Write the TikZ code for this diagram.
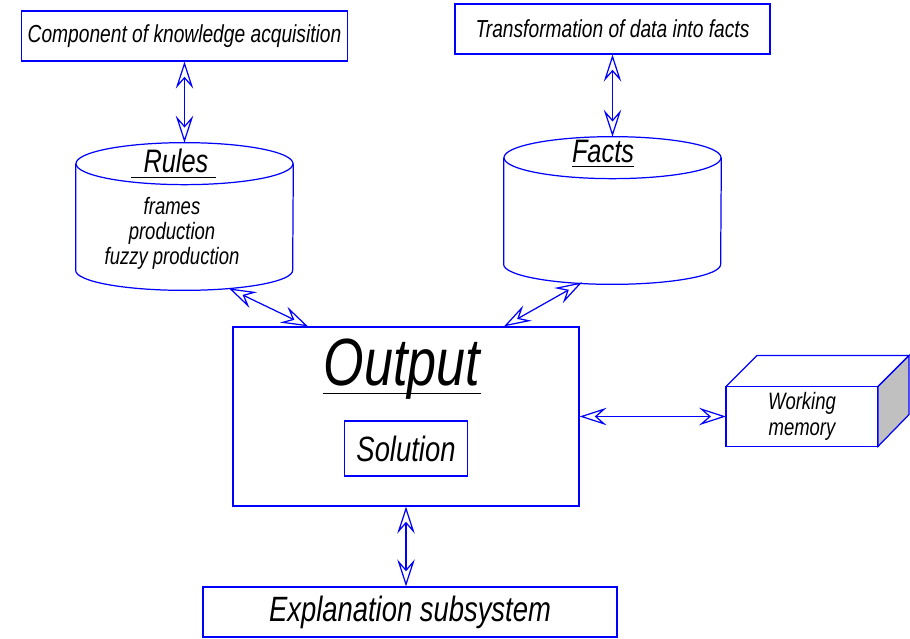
\documentclass[tikz,border=0pt]{standalone}
\usepackage{fontspec}
\setmainfont[FakeStretch=0.78]{Liberation Sans}
\usetikzlibrary{shapes,arrows.meta,calc,positioning}
\definecolor{cadblue}{RGB}{0,0,255}
\definecolor{sidegray}{RGB}{192,192,192}
\tikzstyle{line} = [draw, cadblue, line width=0.7pt, {Stealth[open,length=0.54cm,width=0.35cm,inset=0.2cm]}-{Stealth[open,length=0.54cm,width=0.35cm,inset=0.2cm]}]
\tikzstyle{block} = [draw=cadblue, line width=0.7pt, rectangle, text centered, minimum width=6.3cm, minimum height=1cm, font=\itshape\fontsize{14}{16}\selectfont]
\tikzstyle{db} = [rectangle, minimum width=4.34cm, minimum height=2.94cm]
\tikzstyle{dbline} = [draw=cadblue, line width=0.7pt]
\tikzstyle{lbl} = [text centered, inner sep=0pt, font=\itshape]

\begin{document}
\begin{tikzpicture}[node distance=1.5cm, auto]
        \useasboundingbox (0,0) rectangle (18.2,-12.78);
        \node[block] (acq) at (3.69,-0.72) {Component of knowledge acquisition};
        \node[db, below of=acq, node distance=3.61cm] (rules) {};
        \node[lbl, above of=rules, node distance=1.11cm, xshift=-0.17cm, font=\itshape\fontsize{18.5}{20}\selectfont] (rulestitle) {Rules};
        \node[lbl, below of=rules, node distance=0.33cm, xshift=-0.25cm, align=center, font=\itshape\fontsize{13.5}{14.2}\selectfont] (ruleslist) {frames\\production\\fuzzy production};
        \node[db, right of=rules, node distance=8.56cm, yshift=0.12cm] (facts) {};
        \node[lbl, above of=facts, node distance=1.19cm, xshift=-0.19cm, font=\itshape\fontsize{18.5}{20}\selectfont] (factstitle) {Facts};
        \node[block, above of=facts, node distance=3.63cm] (trans) {Transformation of data into facts};
        \node[block, below of=rules, node distance=4cm, xshift=4.43cm, minimum width=6.92cm, minimum height=3.58cm] (output) {};
        \node[lbl, above of=output, node distance=0.95cm, xshift=-0.08cm, font=\itshape\fontsize{38}{40}\selectfont] (outtitle) {Output};
        \node[block, below of=output, node distance=0.64cm, minimum width=2.46cm, minimum height=1.1cm, font=\itshape\fontsize{20}{22}\selectfont] (solution) {Solution};
        \node[block, right of=output, node distance=7.92cm, minimum width=3.04cm, minimum height=1.18cm, outer sep=0pt, align=center, font=\itshape\fontsize{13.5}{14.8}\selectfont] (wm) {Working\\memory};
        \node[block, below of=output, node distance=3.91cm, xshift=0.08cm, minimum width=8.28cm, font=\itshape\fontsize{20}{22}\selectfont] (expl) {Explanation subsystem};
        % the two stores drawn as cylinders
        \foreach \store in {rules,facts} {
            \draw[dbline] ($(\store.north)+(0,-0.42)$) ellipse [x radius=2.17cm, y radius=0.42cm];
            \draw[dbline] ($(\store.north west)+(0,-0.42)$) -- ($(\store.south west)+(0,0.4)$)
                arc[start angle=180, end angle=360, x radius=2.17cm, y radius=0.4cm] -- ($(\store.north east)+(0,-0.42)$);
        }
        % underlines of the titles
        \draw[line width=0.6pt] ([xshift=-0.24cm,yshift=-0.1cm]rulestitle.base west) -- ([xshift=0.14cm,yshift=-0.1cm]rulestitle.base east);
        \draw[line width=0.6pt] ([yshift=-0.08cm]factstitle.base west) -- ([yshift=-0.08cm]factstitle.base east);
        \draw[line width=0.6pt] ([yshift=-0.16cm]outtitle.base west) -- ([yshift=-0.16cm]outtitle.base east);
        % working memory drawn as a box
        \draw[cadblue, line width=0.7pt, fill=sidegray] (wm.north east) -- ++(0.62,0.62) -- ++(0,-1.18) -- (wm.south east) -- cycle;
        \draw[cadblue, line width=0.7pt] (wm.north west) -- ++(0.62,0.62) -- ++(3.04,0) -- (wm.north east);
        \path[line] (acq) -- (rules);
        \path[line] (trans) -- (facts);
        \path[line] ($(rules.south)+(0.89,0.04)$) -- ($(output.north)+(-1.96,0)$);
        \path[line] ($(facts.south)+(-0.61,0.04)$) -- ($(output.north)+(1.96,0)$);
        \path[line] (output) -- (wm);
        \path[line] (output.south) -- (output.south |- expl.north);
    \end{tikzpicture}
\end{document}
